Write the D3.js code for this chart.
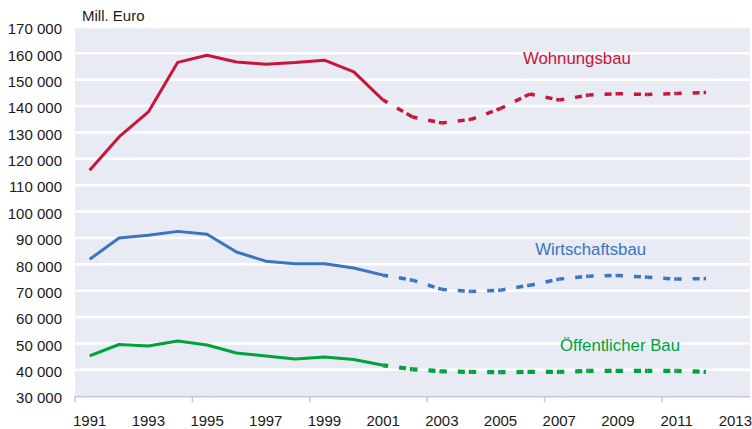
<!DOCTYPE html>
<html>
<head>
<meta charset="utf-8">
<script src="https://cdn.jsdelivr.net/npm/d3@7"></script>
<style>
  body { margin: 0; background: #fff; }
  svg { display: block; font-family: "Liberation Sans", Arial, sans-serif; }
</style>
</head>
<body>
<svg id="chart" width="752" height="429"></svg>
<script>
// categories on the x axis (Excel style category axis, 1991..2013)
const years = d3.range(1991, 2014);
const tickLabels = years.filter(y => (y - 1991) % 2 === 0);

// actual values 1991-2001 (solid)
const actualYears = d3.range(1991, 2002);
const wohnungsbau = [115700, 128300, 137800, 156600, 159300, 156700, 155900, 156500, 157400, 153000, 142300];
const wirtschaftsbau = [81900, 90000, 91000, 92500, 91400, 84700, 81200, 80200, 80200, 78600, 75900];
const oeffentlich = [45300, 49600, 49000, 50900, 49400, 46400, 45200, 44100, 44900, 43900, 41700];

// forecast 2001-2012 (dashed)
const forecastYears = d3.range(2001, 2013);
const wohnungsbauF = [142300, 135900, 133600, 135000, 139100, 144600, 142300, 144200, 144700, 144400, 144800, 145200];
const wirtschaftsbauF = [75900, 74000, 70500, 69700, 70200, 72100, 74400, 75500, 75800, 75100, 74400, 74600];
const oeffentlichF = [41700, 40200, 39400, 39200, 39100, 39200, 39200, 39600, 39600, 39600, 39600, 39200];

const yTicks = d3.range(30000, 170001, 10000);

const series = [
    {name: "Wohnungsbau", color: "#c8163a", actual: wohnungsbau, forecast: wohnungsbauF, dashW: 3.5, lx: 2007.6, ly: 158200},
    {name: "Wirtschaftsbau", color: "#3b75bf", actual: wirtschaftsbau, forecast: wirtschaftsbauF, dashW: 3.5, lx: 2008.07, ly: 85600},
    {name: "Öffentlicher Bau", color: "#00a23c", actual: oeffentlich, forecast: oeffentlichF, dashW: 4.2, lx: 2009.07, ly: 49400}
];

const svg = d3.select("#chart");

const mLeft = 75, mRight = 750, mTop = 27, mBottom = 396.2;

const xBand = d3.scaleBand()
    .domain(years)
    .range([mLeft, mRight]);
const x = yr => xBand(yr) + xBand.bandwidth() / 2;
// continuous version for label placement
const xc = d3.scaleLinear().domain([1991, 2013]).range([x(1991), x(2013)]);

const y = d3.scaleLinear()
    .domain([30000, 170000])
    .range([mBottom, mTop]);

const locale = d3.formatLocale({decimal: ",", thousands: " ", grouping: [3], currency: ["", ""]});
const fmt = locale.format(",");

// plot background
svg.append("rect")
    .attr("x", mLeft)
    .attr("y", y(170000))
    .attr("width", mRight - mLeft)
    .attr("height", y(30000) - y(170000))
    .attr("fill", "#e8eaf4");

// white gridlines
svg.append("g")
    .selectAll("line")
    .data(yTicks.filter(d => d > 30000))
    .join("line")
    .attr("x1", mLeft)
    .attr("x2", mRight)
    .attr("y1", d => y(d))
    .attr("y2", d => y(d))
    .attr("stroke", "#fff")
    .attr("stroke-width", 2.5);

// y axis labels
const yAxis = svg.append("g")
    .attr("transform", `translate(${mLeft},0)`)
    .call(d3.axisLeft(y).tickValues(yTicks).tickFormat(fmt).tickSize(0).tickPadding(13));
yAxis.select(".domain").remove();
yAxis.selectAll("text")
    .attr("font-size", 15)
    .attr("fill", "#1a1a1a")
    .attr("font-family", "Liberation Sans, Arial, sans-serif")
    .attr("dy", "0.45em");

// x axis: line, ticks every 4 categories at band edges, labels every 2
const xAxis = svg.append("g");
xAxis.append("line")
    .attr("x1", mLeft)
    .attr("x2", mRight)
    .attr("y1", mBottom + 0.5)
    .attr("y2", mBottom + 0.5)
    .attr("stroke", "#c4c6d8")
    .attr("stroke-width", 1.5);
xAxis.selectAll("line.tick")
    .data(years.filter(d => (d - 1991) % 4 === 0))
    .join("line")
    .attr("class", "tick")
    .attr("x1", d => xBand(d))
    .attr("x2", d => xBand(d))
    .attr("y1", mBottom)
    .attr("y2", mBottom + 6)
    .attr("stroke", "#c4c6d8")
    .attr("stroke-width", 1.5);
xAxis.selectAll("text")
    .data(tickLabels)
    .join("text")
    .attr("x", d => x(d))
    .attr("y", 426)
    .attr("text-anchor", "middle")
    .attr("font-size", 15)
    .attr("fill", "#1a1a1a")
    .text(d => d);

// unit label
svg.append("text")
    .attr("x", 82)
    .attr("y", 21)
    .attr("font-size", 15)
    .attr("fill", "#1a1a1a")
    .text("Mill. Euro");

const line = d3.line()
    .x(d => x(d[0]))
    .y(d => y(d[1]));

series.forEach(s => {
    const actualPts = actualYears.map((yr, i) => [yr, s.actual[i]]);
    svg.append("path")
        .datum(actualPts)
        .attr("d", line)
        .attr("fill", "none")
        .attr("stroke", s.color)
        .attr("stroke-width", 3)
        .attr("stroke-linejoin", "round");

    // dashed forecast, each yearly segment drawn separately so the pattern restarts
    const fPts = forecastYears.map((yr, i) => [yr, s.forecast[i]]);
    svg.append("g")
        .selectAll("path")
        .data(d3.pairs(fPts))
        .join("path")
        .attr("d", line)
        .attr("fill", "none")
        .attr("stroke", s.color)
        .attr("stroke-width", s.dashW)
        .attr("stroke-dasharray", "7,4,7,11")
        .attr("stroke-dashoffset", 13);

    svg.append("text")
        .attr("x", xc(s.lx))
        .attr("y", y(s.ly))
        .attr("dy", "0.35em")
        .attr("text-anchor", "middle")
        .attr("font-size", 16.8)
        .attr("fill", s.color)
        .text(s.name);
});
</script>
</body>
</html>
